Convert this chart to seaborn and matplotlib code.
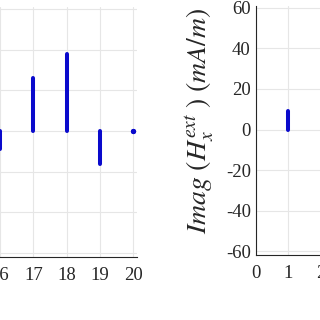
import matplotlib
matplotlib.use("Agg")
import matplotlib.pyplot as plt
import seaborn as sns
import pandas as pd

# Data
left_x = [16, 17, 18, 19, 20]
left_vals = [-9, 26, 38, -16, 0]
right_x = [1]
right_vals = [9]

yticks = [-60, -40, -20, 0, 20, 40, 60]
xticks = list(range(0, 21))
left_shown_x = [16, 17, 18, 19, 20]
right_shown_x = [0, 1, 2]
ylabel = r'$Imag\ (H_x^{ext}\ )\ (mA/m)$'

sns.set_style("white")
plt.rcParams['font.family'] = ['Liberation Serif', 'DejaVu Serif']
plt.rcParams['mathtext.fontset'] = 'stix'
plt.rcParams['axes.unicode_minus'] = False

STEM = '#0a0acc'
TXT = '#262626'
GRID = '#e6e6e6'


def stem_frame(xs, vs):
    rows = []
    for i, (x, v) in enumerate(zip(xs, vs)):
        rows.append({'x': x, 'y': 0.0, 'stem': i})
        rows.append({'x': x, 'y': v, 'stem': i})
    return pd.DataFrame(rows)


fig = plt.figure(figsize=(3.2, 3.2), dpi=100)
W = H = 320.0


def add_axes(left_px, right_px, top_px, bottom_px):
    return fig.add_axes([left_px / W, 1 - bottom_px / H,
                         (right_px - left_px) / W, (bottom_px - top_px) / H])


ppu_l = 33.3
ax1 = add_axes(0 - 16 * ppu_l, 0 + 4.1 * ppu_l, 131 - 61 * 2.033, 131 + 62 * 2.033)
ppu_r = 32.7
ax2 = add_axes(255.7, 255.7 + 20.1 * ppu_r, 129.5 - 61 * 2.03, 129.5 + 62 * 2.03)

for ax, xs, vs, shown_x, show_y in [(ax1, left_x, left_vals, left_shown_x, False),
                                    (ax2, right_x, right_vals, right_shown_x, True)]:
    df = stem_frame(xs, vs)
    sns.lineplot(data=df, x='x', y='y', units='stem', estimator=None, sort=False,
                 color=STEM, lw=2.9, solid_capstyle='round', ax=ax, legend=False)
    zero = df.groupby('stem').filter(lambda g: (g['y'] == 0).all())
    if len(zero):
        sns.scatterplot(data=zero, x='x', y='y', color=STEM, s=14, linewidth=0,
                        ax=ax, legend=False)
    ax.set_xlim(0, 20.1)
    ax.set_ylim(-62, 61)
    ax.set_xticks(xticks)
    ax.set_xticklabels([str(t) if t in shown_x else '' for t in xticks])
    ax.set_yticks(yticks)
    ax.set_yticklabels([str(t) if show_y else '' for t in yticks])
    ax.set_xlabel('')
    ax.set_ylabel('')
    ax.grid(True, color=GRID, lw=0.8)
    ax.set_axisbelow(True)
    for s in ['top', 'right']:
        ax.spines[s].set_visible(False)
    for s in ['left', 'bottom']:
        ax.spines[s].set_color(TXT)
        ax.spines[s].set_linewidth(0.8)
    ax.tick_params(direction='in', length=4.3, width=0.8, color=TXT,
                   labelcolor=TXT, labelsize=13.5, pad=3.5)
    ax.tick_params(axis='x', pad=7)

ax2.set_ylabel(ylabel, fontsize=20, color=TXT)
ax2.yaxis.set_label_coords((217 - 255.7) / (20.1 * ppu_r), (255.5 - 121) / (123 * 2.03))

fig.savefig('out.png', dpi=100)
